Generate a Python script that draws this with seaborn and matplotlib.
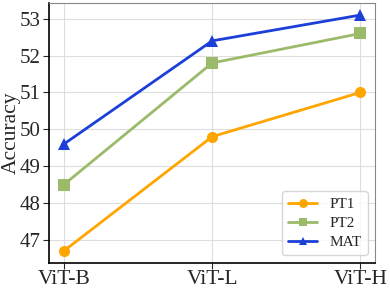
import numpy as np
import pandas as pd
import matplotlib
matplotlib.use("Agg")
import matplotlib.pyplot as plt
import seaborn as sns

# data
models = ["ViT-B", "ViT-L", "ViT-H"]
pt1 = [46.7, 49.8, 51.0]
pt2 = [48.5, 51.8, 52.6]
mat = [49.6, 52.4, 53.1]

sns.set_style("whitegrid", {"grid.color": "#dddddd"})
plt.rcParams['font.family'] = ['Liberation Serif', 'DejaVu Serif']

df = pd.DataFrame({"model": models * 3,
                   "acc": pt1 + pt2 + mat,
                   "method": ["PT1"] * 3 + ["PT2"] * 3 + ["MAT"] * 3})
df["x"] = np.tile(np.arange(len(models)), 3)

fig, ax = plt.subplots(figsize=(3.9, 2.9), dpi=100)
sns.lineplot(data=df, x="x", y="acc", hue="method", style="method",
             palette=["#FFA500", "#9BBB6B", "#1C3FD8"],
             markers=["o", "s", "^"], dashes=False, markersize=8,
             linewidth=2, markeredgewidth=0, ax=ax)

ax.set_xticks(range(len(models)))
ax.set_xticklabels(models, fontsize=15.5)
ax.set_xlim(-0.10, 2.10)
ax.set_ylim(46.37, 53.43)
ax.set_yticks(range(47, 54))
ax.tick_params(axis="y", labelsize=15, left=True, length=4, pad=2)
ax.tick_params(axis="x", bottom=True, length=4, pad=1)
ax.set_xlabel("")
ax.set_ylabel("Accuracy", fontsize=15.5)
ax.yaxis.set_label_coords(-0.088, 0.5)
for s in ["left", "bottom"]:
    ax.spines[s].set_color("black")
    ax.spines[s].set_linewidth(1.2)
for s in ["top", "right"]:
    ax.spines[s].set_color("#888888")

leg = ax.legend(loc="lower right", fontsize=11, frameon=True,
                handlelength=1.9, markerscale=0.8, borderaxespad=0.5,
                labelspacing=0.35)
leg.set_title(None)

plt.subplots_adjust(left=0.126, right=0.962, top=0.99, bottom=0.093)
plt.savefig("out.png", dpi=100)
